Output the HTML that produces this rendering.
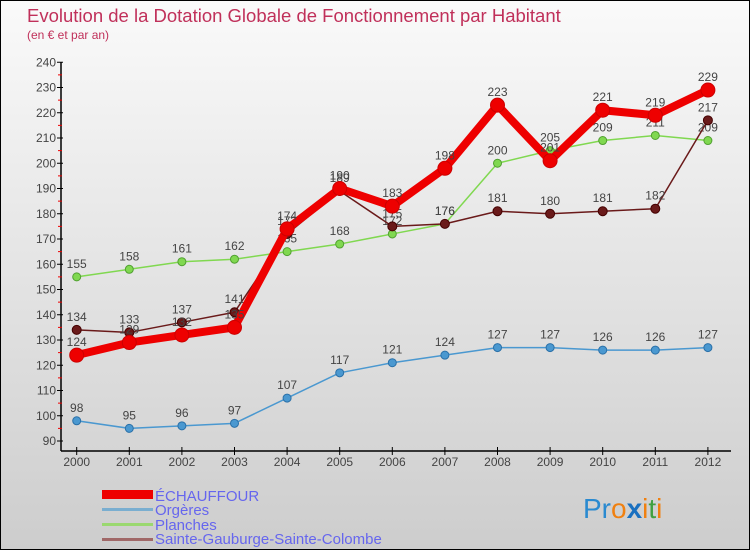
<!DOCTYPE html>
<html><head><meta charset="utf-8"><style>
body{margin:0;}
#wrap{position:relative;width:750px;height:550px;box-sizing:border-box;border:1px solid #000;background:linear-gradient(#fafafa,#cdcdcd);font-family:"Liberation Sans",sans-serif;overflow:hidden;}
svg text{font-family:"Liberation Sans",sans-serif;}
</style></head><body>
<div id="wrap">
<svg id="chart" width="750" height="550" xmlns="http://www.w3.org/2000/svg">
<text x="26" y="21" font-size="18.5" fill="#c0305a">Evolution de la Dotation Globale de Fonctionnement par Habitant</text>
<text x="26" y="38" font-size="12" fill="#c0305a">(en € et par an)</text>
<g id="axes"></g><g id="series"></g>
<g>
<rect x="101" y="489" width="51" height="9" fill="#e00"/>
<text x="154" y="500" font-size="15" fill="#6666ee">ÉCHAUFFOUR</text>
<rect x="101" y="507" width="51" height="3" fill="#7aaed0"/>
<text x="154" y="514" font-size="15" fill="#6666ee">Orgères</text>
<rect x="101" y="522" width="51" height="3" fill="#9ad870"/>
<text x="154" y="529" font-size="15" fill="#6666ee">Planches</text>
<rect x="101" y="537" width="51" height="3" fill="#a06868"/>
<text x="154" y="543" font-size="15" fill="#6666ee">Sainte-Gauburge-Sainte-Colombe</text>
</g>
<text x="582" y="517" font-size="28"><tspan fill="#2a8ad0">Pr</tspan><tspan fill="#f08010">o</tspan><tspan fill="#1a70c0" font-weight="bold">x</tspan><tspan fill="#f08010">i</tspan><tspan fill="#40a040">t</tspan><tspan fill="#f08010">i</tspan></text>
</svg>
</div>
<script>
const years=["2000","2001","2002","2003","2004","2005","2006","2007","2008","2009","2010","2011","2012"];
const echauffour=[124,129,132,135,174,190,183,198,223,201,221,219,229];
const orgeres=[98,95,96,97,107,117,121,124,127,127,126,126,127];
const planches=[155,158,161,162,165,168,172,176,200,205,209,211,209];
const sgsc=[134,133,137,141,172,189,175,176,181,180,181,182,217];
const yTicks=[90,100,110,120,130,140,150,160,170,180,190,200,210,220,230,240];
const NS="http://www.w3.org/2000/svg";
const xs=i=>75.7+i*52.6;
const ys=v=>440-(v-90)*2.525;
function mk(tag,attrs,parent){const e=document.createElementNS(NS,tag);for(const k in attrs)e.setAttribute(k,attrs[k]);parent.appendChild(e);return e;}
const ax=document.getElementById('axes');
const ser=document.getElementById('series');
let l=mk('line',{x1:60,y1:ys(240),x2:60,y2:450,stroke:'#000','stroke-width':1.5},ax);


l=mk('line',{x1:60,y1:450,x2:730,y2:450,stroke:'#000','stroke-width':1.5},ax);


yTicks.forEach(v=>{
 mk('line',{x1:56,y1:ys(v),x2:62,y2:ys(v),stroke:'#000'},ax);
 if(v<240)mk('line',{x1:57,y1:ys(v+5),x2:61,y2:ys(v+5),stroke:'#e00'},ax);
 const t=mk('text',{x:55,y:ys(v)+4,'font-size':12,fill:'#444','text-anchor':'end'},ax);
 t.textContent=v;
 
 
});
years.forEach((y,i)=>{
 mk('line',{x1:xs(i),y1:446,x2:xs(i),y2:454,stroke:'#000'},ax);
 const t=mk('text',{x:xs(i),y:465,'font-size':12,fill:'#444','text-anchor':'middle'},ax);
 t.textContent=y;
 
 
});
function draw(data,name,color,stroke,lw,r){
 const g=mk('g',{},ser);
 
 
 const p=mk('polyline',{points:data.map((v,i)=>xs(i)+','+ys(v)).join(' '),fill:'none',stroke:color,'stroke-width':lw,'stroke-linejoin':'round'},g);
 
 
 data.forEach((v,i)=>{
  const c=mk('circle',{cx:xs(i),cy:ys(v),r:r,fill:color,stroke:stroke,'stroke-width':1},g);
  
  
  const t=mk('text',{x:xs(i),y:ys(v)-9,'font-size':12,fill:'#444','text-anchor':'middle'},g);
  t.textContent=v;
  
  
 });
}
draw(orgeres,'orgeres','#4a98d0','#2a70a8',1.5,4);
draw(planches,'planches','#80d850','#50a030',1.5,4);
draw(sgsc,'sgsc','#6a1a1a','#400',1.5,4.5);
draw(echauffour,'echauffour','#ee0000','#c00',8,7);
</script>
</body></html>
